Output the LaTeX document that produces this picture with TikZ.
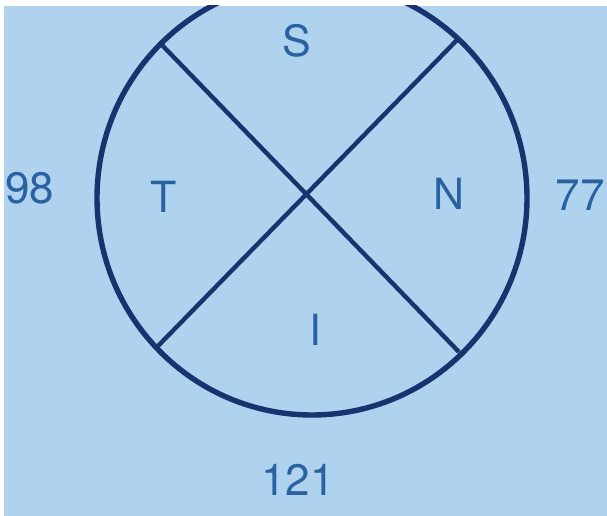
\documentclass[tikz,border=0pt]{standalone}
\usepackage{fontspec}
\setmainfont{TeX Gyre Heros}
\usepackage{xcolor}
\usepackage{tikz}
\usetikzlibrary{positioning}

\definecolor{paper}{HTML}{AFD3EE}
\definecolor{ink}{HTML}{18336E}
\definecolor{letter}{HTML}{2A61A0}

\begin{document}
\begin{tikzpicture}[
  x=1pt, y=-1pt,
  rim/.style={draw=ink, line width=5.4pt},
  divider/.style={draw=ink, line width=4.4pt},
  sector/.style={text=letter, inner sep=0pt, font=\fontsize{43}{43}\selectfont},
  reading/.style={text=letter, inner sep=0pt, font=\fontsize{44}{44}\selectfont}
]
% photo margins
\fill[white] (0,0) rectangle (607,516);
\clip (4,6) rectangle (607,516);
\fill[paper] (4,6) rectangle (607,516);
% field outline and quadrant lines
\coordinate (centre) at (312,198);
\coordinate (st) at (161,44);
\coordinate (sn) at (457,40);
\coordinate (it) at (157,347);
\coordinate (in) at (459,352);
\draw[rim] (centre) ellipse[x radius=215, y radius=217];
\draw[divider] (st) -- (in);
\draw[divider] (sn) -- (it);
% quadrant letters
\node[sector] (S) at (297,41) {S};
\node[sector] (T) at (164,197) {T};
\node[sector] (N) at (449,194) {N};
\node[sector] (I) at (315,330) {I};
% readings
\node[reading] (temporal) at (30,188) {98};
\node[reading] (nasal) at (580,195) {77};
\node[reading] (inferior) at (298,480) {121};
\end{tikzpicture}
\end{document}
